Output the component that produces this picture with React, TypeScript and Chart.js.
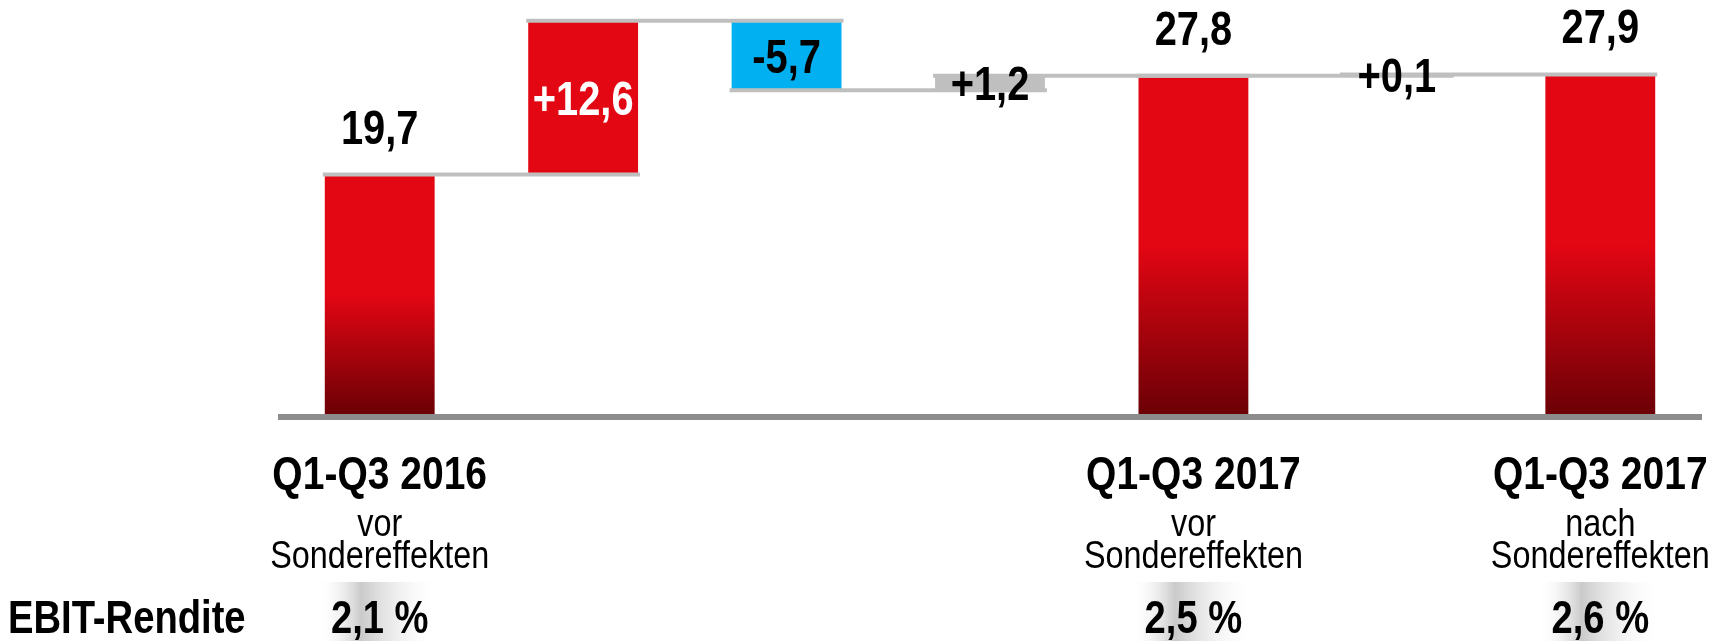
import { useEffect, useRef } from 'react'
import { Chart, registerables } from 'chart.js'

Chart.register(...registerables);

// EBIT bridge, Q1-Q3 2016 -> Q1-Q3 2017 (Mio. EUR)
const periodLabels = ['Q1-Q3 2016', '', '', '', 'Q1-Q3 2017', '', 'Q1-Q3 2017'];
const effectLabels = ['vor', '', '', '', 'vor', '', 'nach'];
const barKinds = ['total', 'up', 'down', 'neutral', 'total', 'neutral', 'total'];
const barValues = [19.7, 12.6, -5.7, 1.2, 27.8, 0.1, 27.9];
const ebitMargins: (number | null)[] = [2.1, null, null, null, 2.5, null, 2.6];

const RED = '#e30613';
const DARK_RED = '#6b0006';
const BLUE = '#00b0f0';
const GREY = '#bfbfbf';
const AXIS = '#8c8c8c';

const fmt = (v: number) => v.toFixed(1).replace('.', ',');

// running totals -> floating ranges
function buildRanges() {
  const ranges: [number, number][] = [];
  const levels: number[] = [];
  let run = 0;
  barValues.forEach((v, i) => {
    if (barKinds[i] === 'total') {
      ranges.push([0, v]);
      run = v;
    } else {
      const next = run + v;
      ranges.push([Math.min(run, next), Math.max(run, next)]);
      run = next;
    }
    levels.push(run);
  });
  return { ranges, levels };
}

// narrow look, like Arial Narrow
function text(ctx: CanvasRenderingContext2D, s: string, x: number, y: number, size: number, bold: boolean, color: string, align: CanvasTextAlign = 'center') {
  ctx.save();
  ctx.translate(x, y);
  ctx.scale(0.83, 1);
  ctx.font = `${bold ? 'bold ' : ''}${size}px "Liberation Sans", Arial, sans-serif`;
  ctx.fillStyle = color;
  ctx.textAlign = align;
  ctx.textBaseline = 'alphabetic';
  ctx.fillText(s, 0, 0);
  ctx.restore();
}

export default function App() {
  const canvasRef = useRef<HTMLCanvasElement>(null);

  useEffect(() => {
    document.body.style.margin = '0';
    if (!canvasRef.current) return;
    const { ranges, levels } = buildRanges();

    const bridgePlugin = {
      id: 'bridge',
      afterDatasetsDraw(chart: Chart) {
        const ctx = chart.ctx;
        const meta = chart.getDatasetMeta(0);
        const y = chart.scales.y;
        const area = chart.chartArea;
        const bars = meta.data as any[];

        // connectors
        ctx.save();
        ctx.strokeStyle = GREY;
        ctx.lineWidth = 4;
        for (let i = 0; i < bars.length - 1; i++) {
          const a = bars[i].getProps(['x', 'width']);
          const b = bars[i + 1].getProps(['x', 'width']);
          const py = y.getPixelForValue(levels[i]);
          ctx.beginPath();
          ctx.moveTo(a.x - a.width / 2 - 2, py);
          ctx.lineTo(b.x + b.width / 2 + 2, py);
          ctx.stroke();
        }
        ctx.restore();

        // axis line
        const base = y.getPixelForValue(0);
        ctx.save();
        ctx.fillStyle = AXIS;
        ctx.fillRect(area.left, base - 1, area.right - area.left, 6);
        ctx.restore();

        // value labels
        bars.forEach((bar, i) => {
          const { x } = bar.getProps(['x']);
          const [lo, hi] = ranges[i];
          const v = barValues[i];
          if (barKinds[i] === 'total') {
            text(ctx, fmt(v), x, y.getPixelForValue(hi) - 31, 48, true, '#000');
          } else {
            const cy = (y.getPixelForValue(lo) + y.getPixelForValue(hi)) / 2;
            const s = (v > 0 ? '+' : '') + fmt(v);
            text(ctx, s, x, cy + 17, 48, true, barKinds[i] === 'up' ? '#fff' : '#000');
          }
        });

        // category labels
        bars.forEach((bar, i) => {
          const { x } = bar.getProps(['x']);
          if (periodLabels[i]) {
            text(ctx, periodLabels[i], x, 489, 47, true, '#000');
            text(ctx, effectLabels[i], x, 536, 39, false, '#000');
            text(ctx, 'Sondereffekten', x, 568, 39, false, '#000');
          }
          const m = ebitMargins[i];
          if (m !== null) {
            const g = ctx.createLinearGradient(x - 62, 0, x + 62, 0);
            g.addColorStop(0, 'rgba(255,255,255,0)');
            g.addColorStop(0.35, '#cacaca');
            g.addColorStop(1, 'rgba(255,255,255,0)');
            ctx.save();
            ctx.fillStyle = g;
            ctx.fillRect(x - 62, 582, 124, 59);
            ctx.restore();
            text(ctx, fmt(m) + ' %', x, 633, 46, true, '#000');
          }
        });
        text(ctx, 'EBIT-Rendite', 8, 633, 46, true, '#000', 'left');
      },
    };

    const chart = new Chart(canvasRef.current, {
      type: 'bar',
      data: {
        labels: periodLabels.map((_, i) => String(i)),
        datasets: [{
          data: ranges as any,
          backgroundColor: (c: any) => {
            const kind = barKinds[c.dataIndex];
            if (kind === 'up') return RED;
            if (kind === 'down') return BLUE;
            if (kind === 'neutral') return GREY;
            const ch = c.chart;
            if (!ch.chartArea) return RED;
            const ys = ch.scales.y;
            const top = ys.getPixelForValue(barValues[c.dataIndex]);
            const bottom = ys.getPixelForValue(0);
            const g = ch.ctx.createLinearGradient(0, top, 0, bottom);
            g.addColorStop(0, RED);
            g.addColorStop(0.5, RED);
            g.addColorStop(1, DARK_RED);
            return g;
          },
          borderWidth: 0,
          borderSkipped: false,
          barPercentage: 0.54,
          categoryPercentage: 1,
        }],
      },
      options: {
        responsive: false,
        animation: false,
        layout: { padding: { left: 278, right: 15, top: 0, bottom: 226 } },
        plugins: { legend: { display: false }, tooltip: { enabled: false } },
        scales: {
          x: { display: false },
          y: { display: false, min: 0, max: 34 },
        },
      },
      plugins: [bridgePlugin],
    });

    return () => chart.destroy();
  }, []);

  return (
    <div style={{ width: 1717, height: 641, background: '#fff' }}>
      <canvas ref={canvasRef} width={1717} height={641} style={{ display: 'block' }} />
    </div>
  );
}
